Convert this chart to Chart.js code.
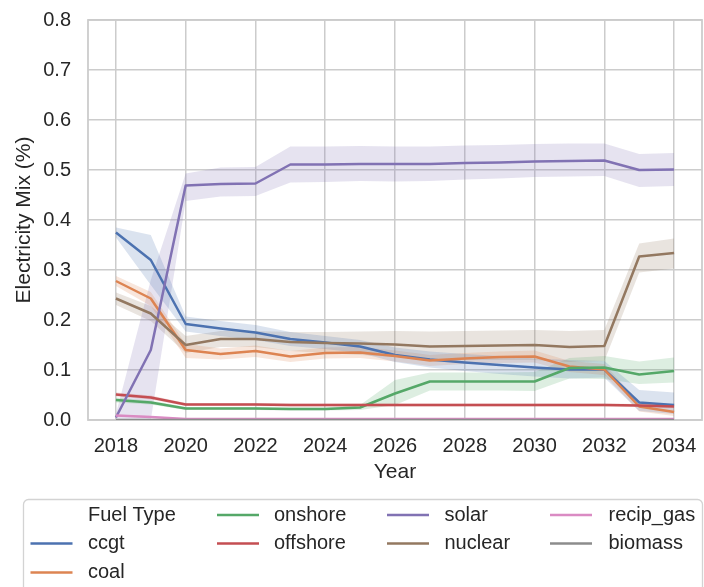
<!DOCTYPE html>
<html><head><meta charset="utf-8">
<script src="https://cdn.jsdelivr.net/npm/chart.js@4"></script>
<style>html,body{margin:0;padding:0;background:#fff}#wrap{width:704px;height:587px;position:relative}</style>
</head><body><div id="wrap"><canvas id="c" width="704" height="587"></canvas></div>
<script>
const years = [2018,2019,2020,2021,2022,2023,2024,2025,2026,2027,2028,2029,2030,2031,2032,2033,2034];
const xTicks = [2018,2020,2022,2024,2026,2028,2030,2032,2034];
const yTicks = [0,0.1,0.2,0.3,0.4,0.5,0.6,0.7,0.8];

const ccgt   = [0.375,0.320,0.192,0.183,0.175,0.162,0.155,0.147,0.130,0.121,0.115,0.110,0.105,0.101,0.101,0.035,0.030];
const ccgtHi = [0.385,0.370,0.207,0.198,0.190,0.176,0.168,0.160,0.145,0.137,0.132,0.128,0.123,0.120,0.118,0.060,0.055];
const ccgtLo = [0.365,0.270,0.177,0.168,0.160,0.148,0.142,0.134,0.116,0.105,0.098,0.092,0.087,0.083,0.085,0.018,0.012];

const coal   = [0.278,0.243,0.140,0.132,0.138,0.127,0.134,0.135,0.128,0.119,0.123,0.126,0.127,0.107,0.101,0.027,0.016];
const coalHi = [0.288,0.256,0.152,0.143,0.149,0.138,0.145,0.146,0.139,0.130,0.134,0.137,0.139,0.118,0.112,0.035,0.024];
const coalLo = [0.268,0.228,0.124,0.121,0.126,0.116,0.123,0.124,0.117,0.108,0.112,0.114,0.115,0.096,0.090,0.017,0.008];

const onshore   = [0.040,0.035,0.023,0.023,0.023,0.022,0.022,0.025,0.053,0.077,0.077,0.077,0.077,0.104,0.105,0.091,0.098];
const onshoreHi = [0.045,0.039,0.026,0.026,0.026,0.025,0.025,0.030,0.080,0.095,0.095,0.095,0.096,0.124,0.128,0.117,0.125];
const onshoreLo = [0.035,0.031,0.020,0.020,0.020,0.019,0.019,0.020,0.030,0.059,0.059,0.059,0.058,0.083,0.082,0.072,0.075];

const offshore   = [0.051,0.045,0.031,0.031,0.031,0.030,0.030,0.030,0.030,0.030,0.030,0.030,0.030,0.030,0.030,0.029,0.027];
const offshoreHi = [0.055,0.049,0.034,0.034,0.034,0.033,0.033,0.033,0.033,0.033,0.033,0.033,0.033,0.033,0.033,0.032,0.030];
const offshoreLo = [0.047,0.041,0.028,0.028,0.028,0.027,0.027,0.027,0.027,0.027,0.027,0.027,0.027,0.027,0.027,0.026,0.024];

const solar   = [0.005,0.140,0.469,0.472,0.473,0.511,0.511,0.512,0.512,0.512,0.514,0.515,0.517,0.518,0.519,0.500,0.501];
const solarHi = [0.012,0.280,0.493,0.505,0.506,0.547,0.547,0.548,0.547,0.547,0.549,0.550,0.552,0.553,0.553,0.532,0.534];
const solarLo = [0.000,0.000,0.438,0.447,0.448,0.475,0.476,0.478,0.477,0.478,0.481,0.483,0.486,0.487,0.488,0.466,0.468];

const nuclear   = [0.243,0.213,0.150,0.162,0.162,0.156,0.154,0.153,0.151,0.147,0.148,0.149,0.150,0.146,0.148,0.327,0.334];
const nuclearHi = [0.255,0.228,0.168,0.178,0.178,0.176,0.176,0.177,0.178,0.177,0.178,0.179,0.180,0.178,0.180,0.353,0.363];
const nuclearLo = [0.230,0.198,0.134,0.146,0.146,0.138,0.134,0.130,0.126,0.120,0.120,0.120,0.120,0.116,0.118,0.295,0.303];

const recipGas   = [0.009,0.006,0.002,0.002,0.002,0.002,0.002,0.002,0.002,0.002,0.002,0.002,0.002,0.002,0.002,0.002,0.002];
const recipGasHi = [0.011,0.008,0.003,0.003,0.003,0.003,0.003,0.003,0.003,0.003,0.003,0.003,0.003,0.003,0.003,0.003,0.003];
const recipGasLo = [0.007,0.004,0.001,0.001,0.001,0.001,0.001,0.001,0.001,0.001,0.001,0.001,0.001,0.001,0.001,0.001,0.001];

const biomass   = [0.000,0.000,0.000,0.000,0.000,0.000,0.000,0.000,0.000,0.000,0.000,0.000,0.000,0.000,0.000,0.000,0.000];

const seriesNames = ['ccgt','coal','onshore','offshore','solar','nuclear','recip_gas','biomass'];
const seriesColors = ['#4C72B0','#DD8452','#55A868','#C44E52','#8172B3','#937860','#DA8BC3','#8C8C8C'];
const seriesMean = [ccgt,coal,onshore,offshore,solar,nuclear,recipGas,biomass];
const seriesHi = [ccgtHi,coalHi,onshoreHi,offshoreHi,solarHi,nuclearHi,recipGasHi,biomass];
const seriesLo = [ccgtLo,coalLo,onshoreLo,offshoreLo,solarLo,nuclearLo,recipGasLo,biomass];

const FONT = "'Liberation Sans', Arial, sans-serif";
const TXT = '#262626';
const GRID = '#cccccc';

function rgba(hex, a){const n=parseInt(hex.slice(1),16);return `rgba(${n>>16&255},${n>>8&255},${n&255},${a})`;}
const pts = arr => years.map((y,i)=>({x:y,y:arr[i]}));

const datasets = [];
seriesNames.forEach((name,i)=>{
  datasets.push({label:name, data:pts(seriesMean[i]), borderColor:seriesColors[i], backgroundColor:seriesColors[i],
    borderWidth:2.5, pointRadius:0, tension:0, fill:false, borderJoinStyle:'round', order: 100 - i});
});
seriesNames.forEach((name,i)=>{
  datasets.push({label:'_hi_'+name, data:pts(seriesHi[i]), borderWidth:0, pointRadius:0, tension:0, fill:false, order:500});
  datasets.push({label:'_lo_'+name, data:pts(seriesLo[i]), borderWidth:0, pointRadius:0, tension:0,
    fill:'-1', backgroundColor:rgba(seriesColors[i],0.2), order:500});
});

const framePlugin = {
  id:'frame',
  beforeDatasetsDraw(chart){
    const {ctx, chartArea:a} = chart;
    ctx.save(); ctx.strokeStyle = GRID; ctx.lineWidth = 1.8;
    ctx.strokeRect(a.left, a.top, a.right-a.left, a.bottom-a.top);
    ctx.restore();
  }
};

const legendTitle = 'Fuel Type';
const legendPlugin = {
  id:'customLegend',
  afterDraw(chart){
    const ctx = chart.ctx;
    ctx.save();
    ctx.beginPath();
    ctx.roundRect(23.5, 499.5, 679, 160, 5);
    ctx.fillStyle = '#ffffff'; ctx.fill();
    ctx.strokeStyle = '#d3d3d3'; ctx.lineWidth = 1.3; ctx.stroke();
    const colHandle = [30.5, 217, 387, 550];
    const colText = [88, 274, 444.5, 608.5];
    const rowY = [515, 543.5, 572.5];
    const slots = [[0,1],[0,2],[1,0],[1,1],[2,0],[2,1],[3,0],[3,1]];
    ctx.font = `20px ${FONT}`; ctx.textBaseline = 'middle'; ctx.fillStyle = TXT; ctx.textAlign='left';
    ctx.fillText(legendTitle, colText[0], rowY[0]);
    seriesNames.forEach((name,i)=>{
      const [c,r] = slots[i];
      ctx.beginPath(); ctx.strokeStyle = seriesColors[i]; ctx.lineWidth = 2.6; ctx.lineCap='butt';
      ctx.moveTo(colHandle[c], rowY[r]); ctx.lineTo(colHandle[c]+42, rowY[r]); ctx.stroke();
      ctx.fillStyle = TXT; ctx.fillText(name, colText[c], rowY[r]);
    });
    ctx.restore();
  }
};

new Chart(document.getElementById('c'), {
  type:'line',
  data:{datasets},
  plugins:[framePlugin, legendPlugin],
  options:{
    responsive:false, animation:false, devicePixelRatio:1,
    layout:{padding:{left:0, top:20, right:2, bottom:97}},
    plugins:{legend:{display:false}, tooltip:{enabled:false}},
    scales:{
      x:{type:'linear', min:2017.2, max:2034.8,
        afterBuildTicks:s=>{s.ticks = xTicks.map(v=>({value:v}));},
        afterFit:s=>{s.height = 70; s.paddingLeft = 0; s.paddingRight = 0; s.paddingTop = 0; s.paddingBottom = 0;},
        ticks:{font:{family:FONT,size:20}, color:TXT, padding:14, callback:v=>String(v), maxRotation:0, autoSkip:false},
        grid:{color:GRID, lineWidth:1.5, drawTicks:false},
        border:{display:false},
        title:{display:true, text:'Year', font:{family:FONT,size:21}, color:TXT, padding:{top:0,bottom:5}}
      },
      y:{type:'linear', min:0, max:0.8,
        afterBuildTicks:s=>{s.ticks = yTicks.map(v=>({value:v}));},
        afterFit:s=>{s.width = 88; s.paddingLeft = 0; s.paddingRight = 0; s.paddingTop = 0; s.paddingBottom = 0;},
        ticks:{font:{family:FONT,size:20}, color:TXT, padding:17, callback:v=>Number(v).toFixed(1)},
        grid:{color:GRID, lineWidth:1.5, drawTicks:false},
        border:{display:false},
        title:{display:true, text:'Electricity Mix (%)', font:{family:FONT,size:21}, color:TXT, padding:{top:11.4,bottom:0}}
      }
    }
  }
});
</script></body></html>
